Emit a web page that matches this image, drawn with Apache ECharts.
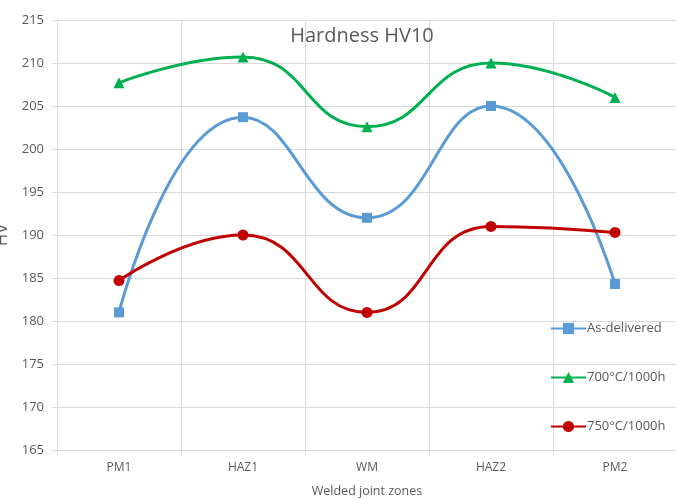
<!DOCTYPE html>
<html>
<head>
<meta charset="utf-8">
<script src="https://cdn.jsdelivr.net/npm/echarts@6/dist/echarts.min.js"></script>
<style>html,body{margin:0;padding:0;background:#fff}#c{width:676px;height:499px}</style>
</head>
<body>
<div id="c"></div>
<script>
var categories = ['PM1', 'HAZ1', 'WM', 'HAZ2', 'PM2'];
var asDelivered = [181.0, 203.7, 192.0, 205.0, 184.3];
var t700 = [207.7, 210.7, 202.6, 210.0, 206.0];
var t750 = [184.7, 190.0, 181.0, 191.0, 190.3];
var seriesNames = ['As-delivered', '700°C/1000h', '750°C/1000h'];

var chart = echarts.init(document.getElementById('c'));
var txt = '#595959';
var gridCol = '#d9d9d9';
var font = '"Open Sans", sans-serif';
chart.setOption({
  animation: false,
  backgroundColor: '#fff',
  textStyle: {fontFamily: font},
  title: {
    text: 'Hardness HV10', left: 357, top: 21, textAlign: 'center',
    textStyle: {fontSize: 20, fontWeight: 'normal', color: txt, fontFamily: font}
  },
  legend: {
    orient: 'vertical', left: 545, top: 317, itemGap: 36, itemWidth: 35, itemHeight: 14,
    textStyle: {fontSize: 13, color: txt, fontFamily: font, padding: [0,0,0,-4]},
    data: seriesNames
  },
  grid: {left: 57, top: 20, width: 620, height: 430, outerBoundsMode: 'none', containLabel: false},
  xAxis: {
    type: 'category', data: categories, boundaryGap: true,
    name: 'Welded joint zones', nameLocation: 'middle', nameGap: 35,
    nameTextStyle: {fontSize: 12.5, color: txt, fontFamily: font},
    axisLine: {lineStyle: {color: gridCol}},
    axisTick: {show: true, length: 5, lineStyle: {color: gridCol}},
    axisLabel: {fontSize: 12, color: txt, margin: 12, fontFamily: font},
    splitLine: {show: true, lineStyle: {color: gridCol}}
  },
  yAxis: {
    type: 'value', min: 165, max: 215, interval: 5,
    name: 'HV', nameLocation: 'middle', nameGap: 32, nameRotate: 90,
    nameTextStyle: {fontSize: 17, color: txt, fontFamily: font},
    axisLine: {show: true, lineStyle: {color: gridCol}},
    axisTick: {show: true, length: 5, lineStyle: {color: gridCol}},
    axisLabel: {fontSize: 13, color: txt, margin: 13, fontFamily: font},
    splitLine: {show: true, lineStyle: {color: gridCol}}
  },
  series: [
    {name: seriesNames[0], type: 'line', data: asDelivered, smooth: 0.5, symbol: 'rect', symbolSize: 10,
     lineStyle: {width: 3, color: '#5B9BD5'}, itemStyle: {color: '#5B9BD5'}},
    {name: seriesNames[1], type: 'line', data: t700, smooth: 0.5, symbol: 'triangle', symbolSize: 11,
     lineStyle: {width: 3, color: '#00B050'}, itemStyle: {color: '#00B050'}},
    {name: seriesNames[2], type: 'line', data: t750, smooth: 0.5, symbol: 'circle', symbolSize: 11,
     lineStyle: {width: 3, color: '#C00000'}, itemStyle: {color: '#C00000'}}
  ]
});
</script>
</body>
</html>
